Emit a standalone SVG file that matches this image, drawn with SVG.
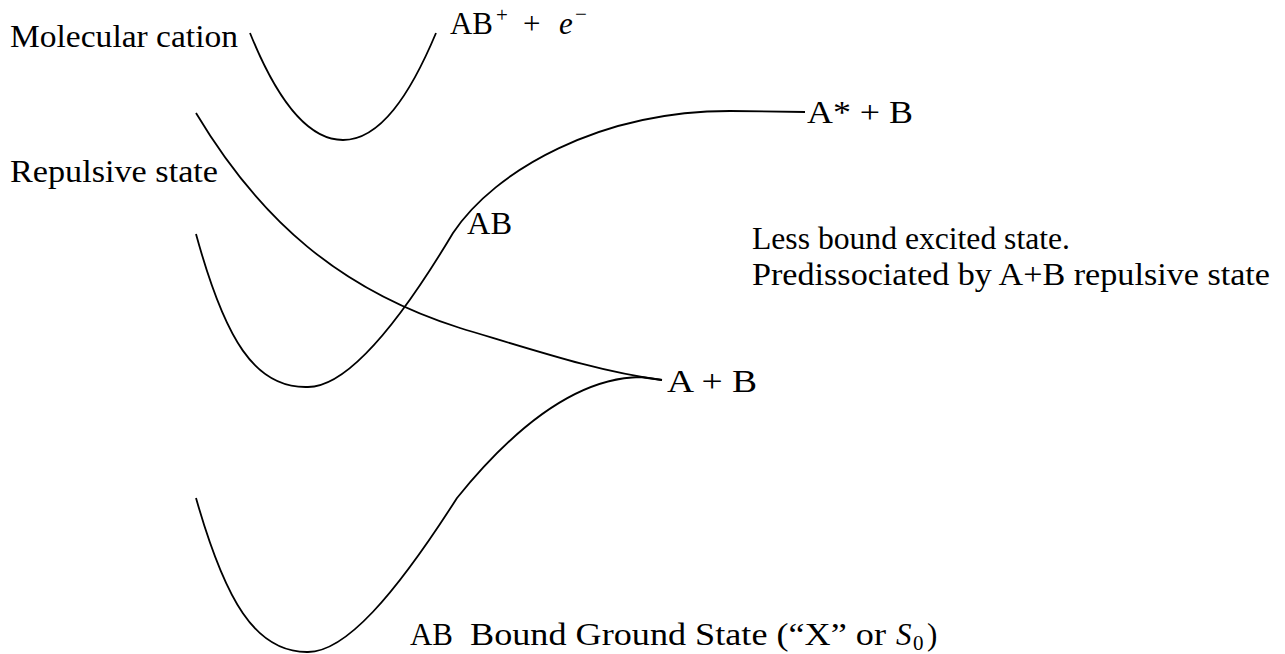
<svg xmlns="http://www.w3.org/2000/svg" width="1285" height="654" viewBox="0 0 1285 654">
<style>
.c{fill:none;stroke:#000;stroke-width:1.8;stroke-linejoin:round;stroke-linecap:butt}
.t{font-family:'Liberation Serif','Times New Roman',Tinos,'DejaVu Serif',serif;font-size:31px;fill:#000}
.i{font-style:italic}
.s{font-size:21px}
</style>
<rect width="1285" height="654" fill="#fff"/>
<g id="cation" class="t">
<path class="c" d="M250,33 C275,95 305,140 343,140 C380,140 410,95 436,33"/>
<text x="10" y="47" textLength="228" lengthAdjust="spacingAndGlyphs">Molecular cation</text>
<text x="450" y="34" textLength="43" lengthAdjust="spacingAndGlyphs">AB</text>
<text class="s" x="496" y="22">+</text>
<text x="523" y="34">+</text>
<text class="i" x="559" y="34">e</text>
<text class="s" x="575" y="21">−</text>
</g>
<g id="repulsive" class="t">
<path class="c" d="M196,113 C260,220 340,290 460,328 C540,352 600,372 662,380"/>
<text x="10" y="182" textLength="208" lengthAdjust="spacingAndGlyphs">Repulsive state</text>
<text x="667" y="392" textLength="90" lengthAdjust="spacingAndGlyphs">A + B</text>
</g>
<g id="excited" class="t">
<path class="c" d="M196,234 C225,340 255,388 307,387 C345,388 395,330 453,233 C495,170 600,111 730,111 L805,112"/>
<text x="467" y="234" textLength="45" lengthAdjust="spacingAndGlyphs">AB</text>
<text x="807" y="123" textLength="106" lengthAdjust="spacingAndGlyphs">A* + B</text>
<text x="752" y="249" textLength="318" lengthAdjust="spacingAndGlyphs">Less bound excited state.</text>
<text x="752" y="285" textLength="518" lengthAdjust="spacingAndGlyphs">Predissociated by A+B repulsive state</text>
</g>
<g id="ground" class="t">
<path class="c" d="M196,498 C225,600 255,652 307,652 C345,653 395,595 457,498 C520,420 580,378 640,377 L662,380"/>
<text x="410" y="645" textLength="43" lengthAdjust="spacingAndGlyphs">AB</text>
<text x="470" y="645" textLength="416" lengthAdjust="spacingAndGlyphs">Bound Ground State (“X” or</text>
<text class="i" x="896" y="645">S</text>
<text class="s" x="913" y="650">0</text>
<text x="927" y="645">)</text>
</g>
<g id="connectors"></g>
</svg>
